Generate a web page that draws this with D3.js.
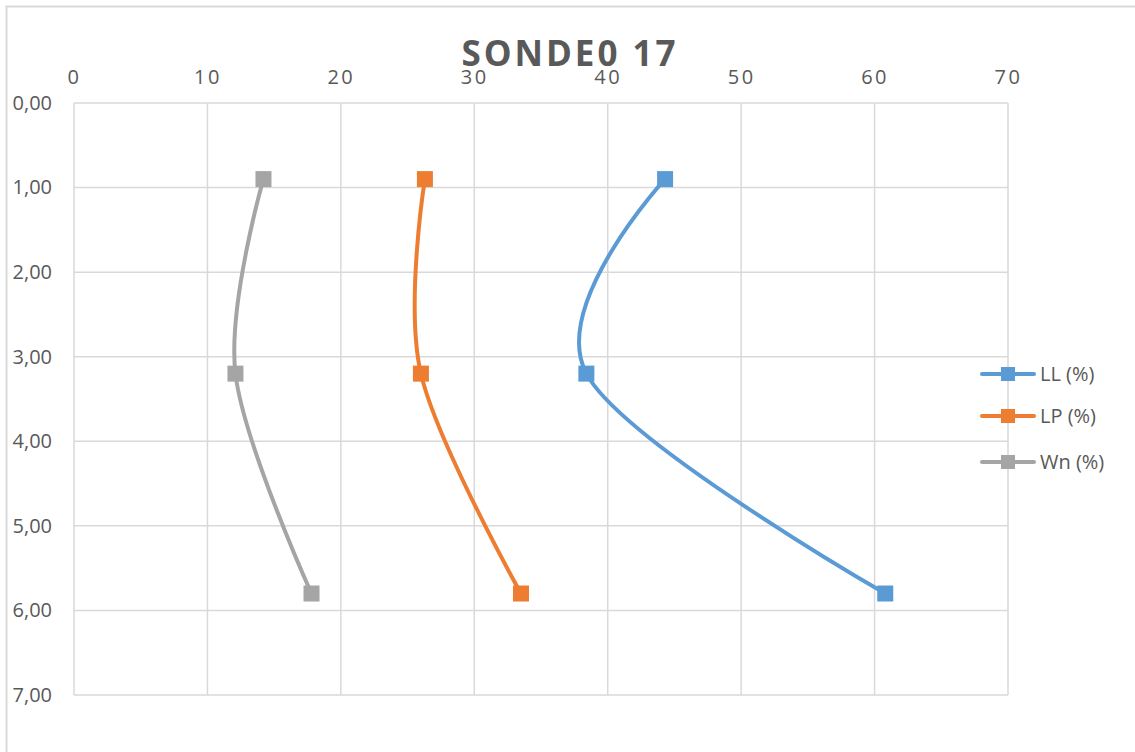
<!DOCTYPE html>
<html>
<head>
<meta charset="utf-8">
<script src="https://cdn.jsdelivr.net/npm/d3@7"></script>
<style>
  body { margin: 0; background: #fff; }
  svg text { font-family: "Open Sans", "Liberation Sans", sans-serif; fill: #595959; }
</style>
</head>
<body>
<div id="chart"></div>
<script>
// depths (m)
const depths = [0.9, 3.2, 5.8];
// series values (%)
const llValues = [44.3, 38.4, 60.8];
const lpValues = [26.3, 26.0, 33.5];
const wnValues = [14.2, 12.1, 17.8];
const seriesNames = ['LL (%)', 'LP (%)', 'Wn (%)'];
const seriesColors = ['#5b9bd5', '#ed7d31', '#a5a5a5'];
const xTicks = [0, 10, 20, 30, 40, 50, 60, 70];
const yTicks = [0, 1, 2, 3, 4, 5, 6, 7];

const width = 1135, height = 752;
const margin = { top: 103, left: 74, right: 127, bottom: 57 };

const svg = d3.select('#chart').append('svg')
  .attr('width', width)
  .attr('height', height);

// chart border
svg.append('path')
  .attr('d', `M6.5,${height}V6.5H${width}`)
  .attr('fill', 'none')
  .attr('stroke', '#d9d9d9')
  .attr('stroke-width', 2);

const x = d3.scaleLinear().domain([0, 70]).range([margin.left, width - margin.right]);
const y = d3.scaleLinear().domain([0, 7]).range([margin.top, height - margin.bottom]);

// Gridlines
const grid = svg.append('g').attr('stroke', '#d9d9d9').attr('stroke-width', 1.5);
grid.selectAll('.vx').data(xTicks).join('line')
  .attr('x1', d => x(d)).attr('x2', d => x(d))
  .attr('y1', y(0)).attr('y2', y(7));
grid.selectAll('.hy').data(yTicks).join('line')
  .attr('x1', x(0)).attr('x2', x(70))
  .attr('y1', d => y(d)).attr('y2', d => y(d));

// Axes (labels only)
const xAxis = svg.append('g')
  .attr('transform', `translate(0,${y(0)})`)
  .call(d3.axisTop(x).tickValues(xTicks).tickSize(0).tickPadding(19));
xAxis.select('.domain').remove();
xAxis.selectAll('text')
  .attr('font-size', 20)
  .attr('letter-spacing', 2.5)
  .attr('font-family', '"Open Sans", sans-serif')
  .attr('fill', '#595959');

const yAxis = svg.append('g')
  .attr('transform', `translate(${x(0)},0)`)
  .call(d3.axisLeft(y).tickValues(yTicks).tickSize(0).tickPadding(22)
    .tickFormat(d => d3.format('.2f')(d).replace('.', ',')));
yAxis.select('.domain').remove();
yAxis.selectAll('text')
  .attr('font-size', 20)
  .attr('font-family', '"Open Sans", sans-serif')
  .attr('fill', '#595959');

// Title
svg.append('text')
  .attr('x', 570)
  .attr('y', 66)
  .attr('text-anchor', 'middle')
  .attr('font-size', 35)
  .attr('font-weight', 'bold')
  .attr('letter-spacing', 3)
  .text('SONDE0 17');

// Series
const allSeries = [llValues, lpValues, wnValues];
const line = d3.line()
  .x(d => x(d.v))
  .y(d => y(d.depth))
  .curve(d3.curveCardinal.tension(0));

allSeries.forEach((vals, i) => {
  const pts = vals.map((v, j) => ({ v, depth: depths[j] }));
  svg.append('path')
    .datum(pts)
    .attr('fill', 'none')
    .attr('stroke', seriesColors[i])
    .attr('stroke-width', 4)
    .attr('stroke-linecap', 'round')
    .attr('d', line);
  svg.append('g').selectAll('rect').data(pts).join('rect')
    .attr('x', d => x(d.v) - 8)
    .attr('y', d => y(d.depth) - 8)
    .attr('width', 16)
    .attr('height', 16)
    .attr('fill', seriesColors[i]);
});

// Legend
const legend = svg.append('g');
const legendY = [374, 416, 462];
seriesNames.forEach((name, i) => {
  const g = legend.append('g').attr('transform', `translate(0,${legendY[i]})`);
  g.append('line')
    .attr('x1', 982).attr('x2', 1034)
    .attr('stroke', seriesColors[i])
    .attr('stroke-width', 4)
    .attr('stroke-linecap', 'round');
  g.append('rect')
    .attr('x', 1001).attr('y', -7)
    .attr('width', 14).attr('height', 14)
    .attr('fill', seriesColors[i]);
  g.append('text')
    .attr('x', 1040)
    .attr('dy', '0.35em')
    .attr('font-size', 20)
    .text(name);
});
</script>
</body>
</html>
